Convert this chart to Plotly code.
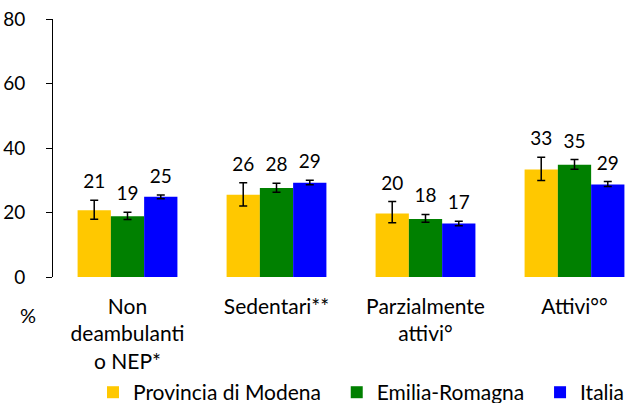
import plotly.graph_objects as go

categories = ["Non<br>deambulanti<br>o NEP*", "Sedentari**", "Parzialmente<br>attivi°", "Attivi°°"]
series_names = ["Provincia di Modena", "Emilia-Romagna", "Italia"]
colors = ["#FFC800", "#008000", "#0000FF"]

modena = [20.7, 25.5, 19.7, 33.3]
modena_hi = [3.1, 3.7, 3.7, 3.8]
modena_lo = [2.8, 3.5, 2.9, 3.4]

emilia = [18.8, 27.6, 18.0, 34.8]
emilia_hi = [1.3, 1.5, 1.4, 1.6]
emilia_lo = [1.0, 1.3, 1.0, 1.4]

italia = [24.9, 29.2, 16.6, 28.7]
italia_hi = [0.5, 0.8, 0.7, 0.9]
italia_lo = [0.6, 0.6, 0.7, 0.6]

y_ticks = [0, 20, 40, 60, 80]

FONT = "Lato"
FS_NUM = 19
FS_TXT = 21

values = [modena, emilia, italia]
his = [modena_hi, emilia_hi, italia_hi]
los = [modena_lo, emilia_lo, italia_lo]

PLOT_L, PLOT_W = 53, 575
PLOT_B, PLOT_H = 276.7, 257.4  # PLOT_B: pixel row of y=0 from top

fig = go.Figure()
for i in range(3):
    fig.add_trace(go.Bar(
        x=categories, y=values[i], name=series_names[i] + "\u00a0" * 2,
        marker=dict(color=colors[i], line=dict(width=0)),
        offsetgroup=str(i),
        error_y=dict(type="data", symmetric=False, array=his[i], arrayminus=los[i],
                     color="#000000", thickness=1.5, width=4),
    ))
for i in range(3):
    tops = [v + h for v, h in zip(values[i], his[i])]
    fig.add_trace(go.Scatter(
        x=categories, y=tops, mode="markers+text",
        marker=dict(size=10, color="rgba(0,0,0,0)"),
        text=[str(round(v)) for v in values[i]],
        textposition="top center",
        textfont=dict(family=FONT, size=FS_NUM, color="#000000"),
        offsetgroup=str(i), showlegend=False, hoverinfo="skip",
    ))

fig.update_layout(
    width=628, height=403,
    margin=dict(l=PLOT_L, r=628 - PLOT_L - PLOT_W, t=PLOT_B - PLOT_H, b=403 - PLOT_B, pad=0,
                autoexpand=False),
    paper_bgcolor="white", plot_bgcolor="white",
    font=dict(family=FONT, size=FS_NUM, color="#000000"),
    barmode="group", bargap=0.33, bargroupgap=0,
    scattermode="group", scattergap=0.33,
    showlegend=True,
    legend=dict(orientation="h", xref="paper", yref="paper",
                x=(93 - PLOT_L) / PLOT_W, y=(PLOT_B - 392) / PLOT_H,
                xanchor="left", yanchor="middle",
                font=dict(family=FONT, size=FS_TXT, color="#000000"),
                bgcolor="rgba(0,0,0,0)"),
    xaxis=dict(type="category", range=[-0.5, -0.5 + PLOT_W / 149], showline=False,
               ticks="", showgrid=False, zeroline=False, ticklabelstandoff=15,
               tickfont=dict(family=FONT, size=FS_TXT, color="#000000")),
    yaxis=dict(range=[0, 80], tickvals=y_ticks, showline=True, linecolor="#000000",
               linewidth=1, ticks="outside", ticklen=6, tickcolor="#000000",
               showgrid=False, zeroline=False, ticklabelstandoff=17,
               tickfont=dict(family=FONT, size=FS_NUM, color="#000000")),
    annotations=[dict(text="%", xref="paper", yref="paper",
                      x=(28 - PLOT_L) / PLOT_W, y=(PLOT_B - 315) / PLOT_H,
                      xanchor="center", yanchor="middle", showarrow=False,
                      font=dict(family=FONT, size=20, color="#000000"))],
)

fig.write_html("out.html", config={"displayModeBar": False},
               post_script="document.body.style.margin='0';")
